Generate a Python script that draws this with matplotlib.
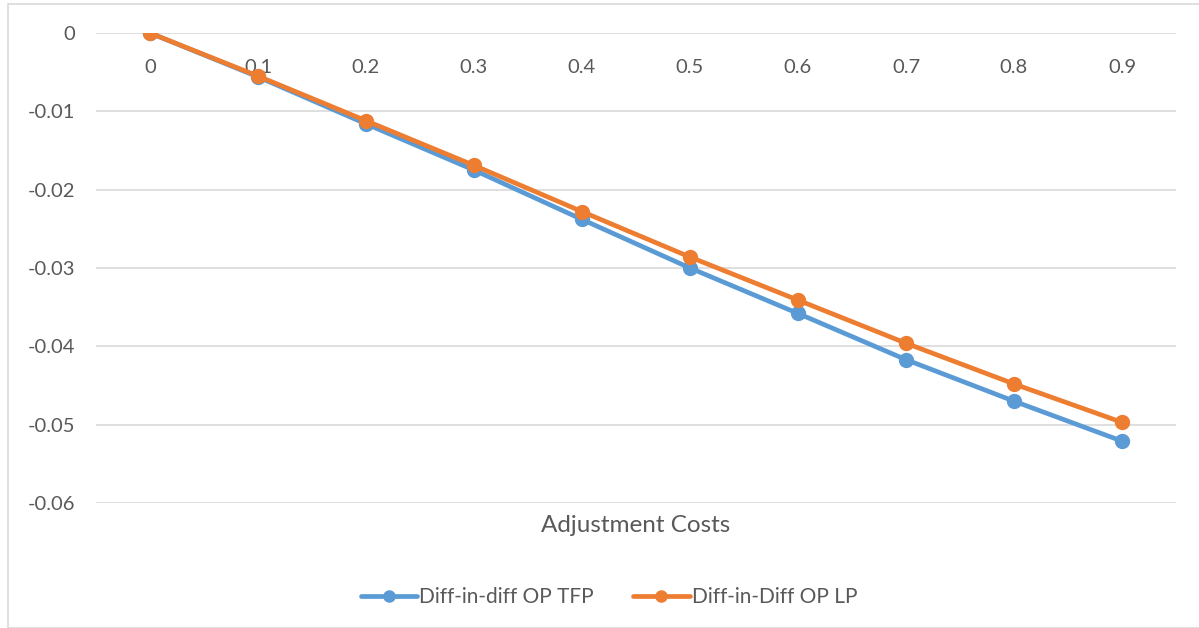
import matplotlib.pyplot as plt
from matplotlib.patches import Rectangle

costs = ['0', '0.1', '0.2', '0.3', '0.4', '0.5', '0.6', '0.7', '0.8', '0.9']
op_tfp = [0, -0.0056, -0.0116, -0.0175, -0.0238, -0.0300, -0.0358, -0.0417, -0.0470, -0.0521]
op_lp = [0, -0.0055, -0.0112, -0.0169, -0.0228, -0.0286, -0.0341, -0.0396, -0.0448, -0.0497]

plt.rcParams['font.family'] = ['Lato', 'DejaVu Sans']

W, H = 1199, 628
fig = plt.figure(figsize=(W / 100, H / 100), dpi=100)

# outer chart border (cut off at right and bottom)
fig.patches.append(Rectangle((8 / W, 0), 1.2, 1 - 4 / H, transform=fig.transFigure,
                             fill=False, edgecolor='#d9d9d9', linewidth=1.2))

ax = fig.add_axes([96 / W, 1 - 503 / H, 1080 / W, 470 / H])
x = list(range(len(costs)))
ax.plot(x, op_tfp, color='#5b9bd5', linewidth=3.4, marker='o', markersize=10,
        label='Diff-in-diff OP TFP', solid_capstyle='round', zorder=3)
ax.plot(x, op_lp, color='#ed7d31', linewidth=3.4, marker='o', markersize=10,
        label='Diff-in-Diff OP LP', solid_capstyle='round', zorder=4)

ax.set_xlim(-0.5, len(costs) - 0.5)
ax.set_ylim(-0.06, 0)
yt = [0, -0.01, -0.02, -0.03, -0.04, -0.05, -0.06]
ax.set_yticks(yt)
ax.set_yticklabels(['0', '-0.01', '-0.02', '-0.03', '-0.04', '-0.05', '-0.06'])
ax.set_xticks([])
ax.tick_params(axis='y', length=0, pad=15, labelsize=14.5, labelcolor='#595959')
ax.grid(axis='y', color='#d9d9d9', linewidth=1.2)
ax.set_axisbelow(True)
for s in ax.spines.values():
    s.set_visible(False)

# category labels sit just under the zero line
for i, lab in enumerate(costs):
    ax.annotate(lab, (i, 0), xytext=(0, -24.5), textcoords='offset points',
                ha='center', va='center', fontsize=14.5, color='#595959')

fig.text(636 / W, 1 - 526 / H, 'Adjustment Costs', ha='center', va='center',
         fontsize=17.5, color='#595959')

fig.legend(loc='center', bbox_to_anchor=(609 / W, 1 - 597 / H), ncol=2, frameon=False,
           fontsize=15, labelcolor='#595959', handlelength=2.7, handletextpad=0.1,
           columnspacing=1.9, markerscale=0.8)

fig.savefig('out.png', dpi=100)
